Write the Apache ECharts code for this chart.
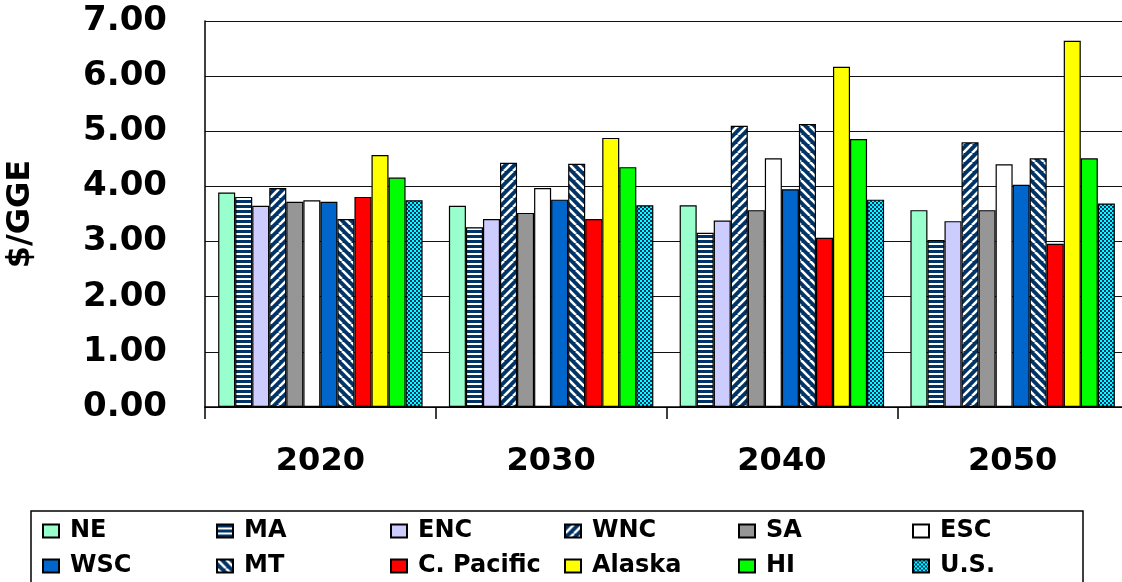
<!DOCTYPE html>
<html>
<head>
<meta charset="utf-8">
<script src="https://cdn.jsdelivr.net/npm/echarts@6/dist/echarts.min.js"></script>
<style>
  html, body { margin: 0; padding: 0; background: #fff; }
  #main { width: 1122px; height: 582px; }
</style>
</head>
<body>
<div id="main"></div>
<script>
// years on the x axis
var years = ['2020', '2030', '2040', '2050']
var yTicks = [0, 1, 2, 3, 4, 5, 6, 7]

// $/GGE per region
var NE = [3.89, 3.65, 3.66, 3.57]
var MA = [3.81, 3.26, 3.16, 3.03]
var ENC = [3.65, 3.41, 3.38, 3.37]
var WNC = [3.97, 4.43, 5.10, 4.80]
var SA = [3.72, 3.52, 3.57, 3.57]
var ESC = [3.75, 3.97, 4.51, 4.40]
var WSC = [3.72, 3.76, 3.95, 4.03]
var MT = [3.41, 4.41, 5.13, 4.51]
var CPacific = [3.81, 3.41, 3.07, 2.96]
var Alaska = [4.57, 4.88, 6.17, 6.64]
var HI = [4.16, 4.35, 4.86, 4.51]
var US = [3.75, 3.66, 3.76, 3.69]

var NAVY = '#003366'
var FONT = 'DejaVu Sans'

// small canvas tiles for the hatched fills
function hStripes () {
  var c = document.createElement('canvas')
  c.width = 5; c.height = 5
  var g = c.getContext('2d')
  g.fillStyle = '#fff'; g.fillRect(0, 0, 5, 5)
  g.fillStyle = NAVY; g.fillRect(0, 0, 5, 3)
  return c
}
function diag (up) {
  var p = 9
  var c = document.createElement('canvas')
  c.width = p; c.height = p
  var g = c.getContext('2d')
  g.fillStyle = NAVY; g.fillRect(0, 0, p, p)
  g.strokeStyle = '#fff'; g.lineWidth = 2.6
  for (var x0 = -p; x0 <= p; x0 += p) {
    g.beginPath()
    if (up) { g.moveTo(x0, p); g.lineTo(x0 + p, 0) } else { g.moveTo(x0, 0); g.lineTo(x0 + p, p) }
    g.stroke()
  }
  return c
}
function checker () {
  var c = document.createElement('canvas')
  c.width = 4; c.height = 4
  var g = c.getContext('2d')
  g.fillStyle = NAVY; g.fillRect(0, 0, 4, 4)
  g.fillStyle = '#00ffff'; g.fillRect(0, 0, 2, 2); g.fillRect(2, 2, 2, 2)
  return c
}
function pat (canvas) {
  return { image: canvas, repeat: 'repeat' }
}

var regions = [
  { name: 'NE', data: NE, color: '#99ffcc' },
  { name: 'MA', data: MA, color: pat(hStripes()) },
  { name: 'ENC', data: ENC, color: '#ccccff' },
  { name: 'WNC', data: WNC, color: pat(diag(true)) },
  { name: 'SA', data: SA, color: '#969696' },
  { name: 'ESC', data: ESC, color: '#ffffff' },
  { name: 'WSC', data: WSC, color: '#0066cc' },
  { name: 'MT', data: MT, color: pat(diag(false)) },
  { name: 'C. Pacific', data: CPacific, color: '#ff0000' },
  { name: 'Alaska', data: Alaska, color: '#ffff00' },
  { name: 'HI', data: HI, color: '#00ff00' },
  { name: 'U.S.', data: US, color: pat(checker()) }
]

var series = regions.map(function (r) {
  return {
    name: r.name,
    type: 'bar',
    data: r.data,
    barGap: 0,
    barCategoryGap: '11.4%',
    itemStyle: { color: r.color, borderColor: '#000', borderWidth: 1.2 }
  }
})

var chart = echarts.init(document.getElementById('main'))
var option = {
  animation: false,
  backgroundColor: '#fff',
  grid: { left: 205, right: -6, top: 21, bottom: 175, containLabel: false, outerBoundsMode: 'none' },
  xAxis: {
    type: 'category',
    data: years,
    axisLine: { lineStyle: { color: '#000', width: 1.5 } },
    axisTick: { show: true, length: 12, lineStyle: { color: '#000', width: 1.5 } },
    axisLabel: { color: '#000', fontFamily: FONT, fontWeight: 'bold', fontSize: 32, margin: 39 }
  },
  yAxis: {
    type: 'value',
    min: yTicks[0],
    max: yTicks[yTicks.length - 1],
    interval: 1,
    name: '$/GGE',
    nameLocation: 'middle',
    nameRotate: 90,
    nameGap: 168,
    nameTextStyle: { color: '#000', fontFamily: FONT, fontWeight: 'bold', fontSize: 32 },
    axisLine: { show: true, lineStyle: { color: '#000', width: 1.5 } },
    axisTick: { show: false },
    splitLine: { lineStyle: { color: '#111', width: 1.2 } },
    axisLabel: {
      color: '#000', fontFamily: FONT, fontWeight: 'bold', fontSize: 34, margin: 38,
      formatter: function (v) { return v.toFixed(2) }
    }
  },
  legend: {
    left: 42,
    top: 517,
    width: 1045,
    padding: 0,
    itemGap: 7,
    itemWidth: 16,
    itemHeight: 13,
    icon: 'rect',
    textStyle: { color: '#000', fontFamily: FONT, fontWeight: 'bold', fontSize: 24, width: 139, lineHeight: 28, padding: [0, 0, 0, 6] },
    data: regions.map(function (r) { return r.name })
  },
  graphic: [
    {
      type: 'rect',
      z: -1,
      shape: { x: 31, y: 511, width: 1052, height: 90 },
      style: { fill: 'none', stroke: '#000', lineWidth: 1.5 }
    }
  ],
  series: series
}
option && chart.setOption(option)
</script>
</body>
</html>
